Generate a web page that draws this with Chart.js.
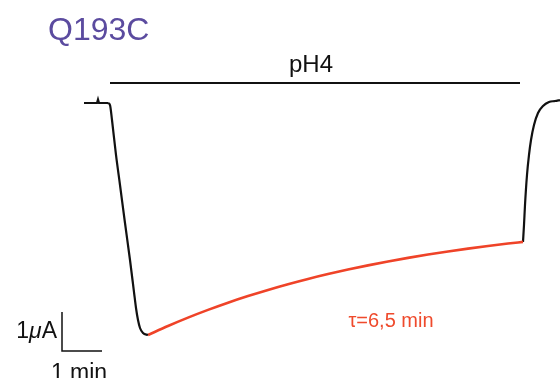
<!DOCTYPE html>
<html>
<head>
<meta charset="utf-8">
<script src="https://cdn.jsdelivr.net/npm/chart.js@4"></script>
<style>
  body { margin: 0; background: #fff; }
  #wrap { width: 560px; height: 378px; position: relative; }
</style>
</head>
<body>
<div id="wrap"><canvas id="traceChart"></canvas></div>
<script>
// time in min, current in uA (0 = baseline before pH4)
const baseTime = [2.1, 2.425, 2.45, 2.475, 2.7];
const baseCurrent = [0, 0, 0.092, 0, 0];

const dropTime = [2.7, 2.75, 2.8, 2.9, 3.0, 3.125, 3.25, 3.35, 3.4, 3.45, 3.5, 3.575, 3.7];
const dropCurrent = [0, -0.053, -0.447, -1.368, -2.158, -3.158, -4.132, -4.974, -5.395, -5.711, -5.921, -6.053, -6.105];

// decay fit (tau = 6,5 min)
const fitTime = [3.7, 4.2, 4.7, 5.2, 5.7, 6.2, 6.7, 7.2, 7.7, 8.2, 8.7, 9.2, 9.7, 10.2, 10.7, 11.2, 11.7, 12.2, 12.7, 13.075];
const fitCurrent = [-6.105, -5.868, -5.648, -5.444, -5.255, -5.081, -4.919, -4.769, -4.630, -4.502, -4.383, -4.273, -4.171, -4.076, -3.989, -3.908, -3.833, -3.764, -3.699, -3.654];

const washTime = [13.075, 13.1, 13.125, 13.175, 13.225, 13.275, 13.35, 13.45, 13.575, 13.725, 13.875, 14.0];
const washCurrent = [-3.654, -3.211, -2.684, -1.895, -1.368, -0.974, -0.579, -0.263, -0.079, 0.026, 0.053, 0.079];

// pH4 application bar and scale bar
const phBarTime = [2.75, 13.0];
const phBarLevel = 0.526;
const scaleTime = [1.55, 1.55, 2.55];
const scaleCurrent = [-5.5, -6.526, -6.526];

const pts = (xs, ys) => xs.map((x, i) => ({ x: x, y: ys[i] }));

const labels = {
  title: 'Q193C',
  stim: 'pH4',
  tau: 'τ=6,5 min',
  time: '1 min'
};

const FONT = '"Liberation Sans", Arial, sans-serif';

const textPlugin = {
  id: 'texts',
  afterDraw(chart) {
    const c = chart.ctx;
    const x = chart.scales.x, y = chart.scales.y;
    c.save();
    c.textBaseline = 'alphabetic';

    c.fillStyle = '#5b4b9f';
    c.font = '32px ' + FONT;
    c.textAlign = 'left';
    c.fillText(labels.title, x.getPixelForValue(1.2), y.getPixelForValue(1.658));

    c.fillStyle = '#111';
    c.font = '24px ' + FONT;
    c.textAlign = 'center';
    c.fillText(labels.stim, x.getPixelForValue(7.775), y.getPixelForValue(0.824));

    c.fillStyle = '#ef4a2c';
    c.font = '20px ' + FONT;
    c.fillText(labels.tau, x.getPixelForValue(9.775), y.getPixelForValue(-5.895));

    // 1uA with italic mu, right aligned against the scale bar
    c.fillStyle = '#111';
    const right = x.getPixelForValue(1.425);
    const base = y.getPixelForValue(-6.184);
    const f1 = '23px ' + FONT, f2 = 'italic 23px ' + FONT;
    c.textAlign = 'left';
    c.font = f1; const wA = c.measureText('A').width; const w1 = c.measureText('1').width;
    c.font = f2; const wMu = c.measureText('μ').width;
    let px = right - wA - wMu - w1;
    c.font = f1; c.fillText('1', px, base); px += w1;
    c.font = f2; c.fillText('μ', px, base); px += wMu;
    c.font = f1; c.fillText('A', px, base);

    c.font = '23px ' + FONT;
    c.textAlign = 'center';
    c.fillText(labels.time, x.getPixelForValue(1.975), y.getPixelForValue(-7.3));
    c.restore();
  }
};

const black = '#111';

new Chart(document.getElementById('traceChart').getContext('2d'), {
  type: 'line',
  data: {
    datasets: [
      { data: pts(baseTime, baseCurrent), borderColor: black, borderWidth: 2.2 },
      { data: pts(dropTime, dropCurrent), borderColor: black, borderWidth: 2.2, cubicInterpolationMode: 'monotone' },
      { data: pts(fitTime, fitCurrent), borderColor: '#ef4328', borderWidth: 2.6, cubicInterpolationMode: 'monotone' },
      { data: pts(washTime, washCurrent), borderColor: black, borderWidth: 2.2, cubicInterpolationMode: 'monotone' },
      { data: pts(phBarTime, [phBarLevel, phBarLevel]), borderColor: black, borderWidth: 2 },
      { data: pts(scaleTime, scaleCurrent), borderColor: black, borderWidth: 1.5 }
    ]
  },
  options: {
    responsive: true,
    maintainAspectRatio: false,
    animation: false,
    layout: { padding: 0 },
    elements: { point: { radius: 0 }, line: { fill: false } },
    plugins: { legend: { display: false }, tooltip: { enabled: false } },
    scales: {
      x: { type: 'linear', min: 0, max: 14, display: false },
      y: { type: 'linear', min: -7.237, max: 2.711, display: false }
    }
  },
  plugins: [textPlugin]
});
</script>
</body>
</html>
